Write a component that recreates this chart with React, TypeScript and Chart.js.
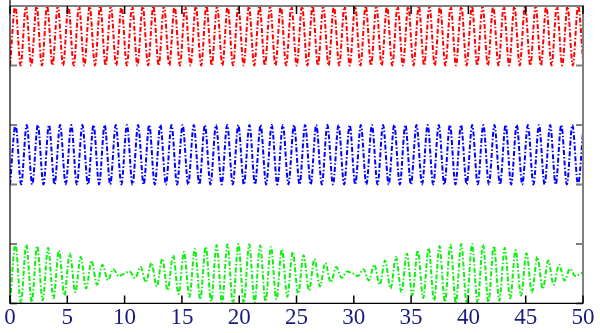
import React, { useEffect, useRef } from 'react';
import { Chart, registerables } from 'chart.js';

Chart.register(...registerables);

// Sample interval (time between successive extrema) of each trace
const RED_STEP = 0.4633;
const BLUE_STEP = 0.4859;
const GREEN_STEP = 0.4744;

const xTicks = [0, 5, 10, 15, 20, 25, 30, 35, 40, 45, 50];
const yTicks = [-1, 1, 3, 5, 7, 9];

// Red trace (offset 8): successive troughs/peaks
const redValues = [
  7, 9, 7, 9, 7, 9, 7, 9, 7, 9, 7, 9, 7, 9, 7, 9, 7, 9, 7, 9,
  7, 9, 7, 9, 7, 9, 7, 9, 7, 9, 7, 9, 7, 9, 7, 9, 7, 9, 7, 9,
  7, 9, 7, 9, 7, 9, 7, 9, 7, 9, 7, 9, 7, 9, 7, 9, 7, 9, 7, 9,
  7, 9, 7, 9, 7, 9, 7, 9, 7, 9, 7, 9, 7, 9, 7, 9, 7, 9, 7, 9,
  7, 9, 7, 9, 7, 9, 7, 9, 7, 9, 7, 9, 7, 9, 7, 9, 7, 9, 7, 9,
  7, 9, 7, 9, 7, 9, 7, 9, 7,
];

// Blue trace (offset 4): successive troughs/peaks
const blueValues = [
  3, 5, 3, 5, 3, 5, 3, 5, 3, 5, 3, 5, 3, 5, 3, 5, 3, 5, 3, 5,
  3, 5, 3, 5, 3, 5, 3, 5, 3, 5, 3, 5, 3, 5, 3, 5, 3, 5, 3, 5,
  3, 5, 3, 5, 3, 5, 3, 5, 3, 5, 3, 5, 3, 5, 3, 5, 3, 5, 3, 5,
  3, 5, 3, 5, 3, 5, 3, 5, 3, 5, 3, 5, 3, 5, 3, 5, 3, 5, 3, 5,
  3, 5, 3, 5, 3, 5, 3, 5, 3, 5, 3, 5, 3, 5, 3, 5, 3, 5, 3, 5,
  3, 5, 3, 5,
];

// Green trace (offset 0): beating signal, successive extrema
const greenValues = [
  -1.0, 1.0, -0.99, 0.98, -0.96, 0.93, -0.9, 0.87, -0.83, 0.78,
  -0.73, 0.68, -0.62, 0.56, -0.5, 0.43, -0.37, 0.3, -0.22, 0.15,
  -0.08, 0.0, 0.07, -0.15, 0.22, -0.29, 0.36, -0.43, 0.5, -0.56,
  0.62, -0.68, 0.73, -0.78, 0.83, -0.87, 0.9, -0.93, 0.96, -0.98,
  0.99, -1.0, 1.0, -1.0, 0.99, -0.97, 0.95, -0.93, 0.9, -0.86,
  0.82, -0.78, 0.73, -0.67, 0.62, -0.56, 0.49, -0.43, 0.36, -0.29,
  0.22, -0.14, 0.07, 0.01, -0.08, 0.15, -0.23, 0.3, -0.37, 0.44,
  -0.5, 0.56, -0.62, 0.68, -0.73, 0.78, -0.82, 0.86, -0.9, 0.93,
  -0.95, 0.97, -0.99, 1.0, -1.0, 1.0, -0.99, 0.98, -0.96, 0.93,
  -0.91, 0.87, -0.83, 0.79, -0.74, 0.69, -0.63, 0.57, -0.51, 0.44,
  -0.37, 0.3, -0.23, 0.16, -0.08, 0.01, 0.07,
];

const frameTicks = {
  id: 'frameTicks',
  afterDraw(chart: any) {
    const { ctx, chartArea } = chart;
    const { left, right, top, bottom } = chartArea;
    const xs = chart.scales.x;
    const ys = chart.scales.y;
    ctx.save();
    // y ticks (gray, inward)
    ctx.strokeStyle = '#808080';
    ctx.lineWidth = 2;
    yTicks.forEach((v) => {
      const py = ys.getPixelForValue(v);
      ctx.beginPath();
      ctx.moveTo(left, py);
      ctx.lineTo(left + 7, py);
      ctx.moveTo(right, py);
      ctx.lineTo(right - 7, py);
      ctx.stroke();
    });
    // top & right frame gray
    ctx.beginPath();
    ctx.moveTo(left, top);
    ctx.lineTo(right, top);
    ctx.lineTo(right, bottom);
    ctx.stroke();
    // x ticks (black, inward)
    ctx.strokeStyle = '#000000';
    ctx.lineWidth = 1.5;
    xTicks.forEach((v) => {
      const px = xs.getPixelForValue(v);
      ctx.beginPath();
      ctx.moveTo(px, bottom);
      ctx.lineTo(px, bottom - 8);
      ctx.moveTo(px, top);
      ctx.lineTo(px, top + 8);
      ctx.stroke();
    });
    // left & bottom frame black
    ctx.lineWidth = 1.2;
    ctx.beginPath();
    ctx.moveTo(left, top - 6);
    ctx.lineTo(left, bottom);
    ctx.lineTo(right, bottom);
    ctx.stroke();
    ctx.restore();
  },
};

export default function App() {
  const ref = useRef<HTMLCanvasElement>(null);
  useEffect(() => {
    document.body.style.margin = '0';
    const mk = (vals: number[], step: number) => vals.map((y, i) => ({ x: i * step, y }));
    const common = {
      pointRadius: 0,
      borderWidth: 2,
      borderDash: [5, 2, 1.5, 2],
      cubicInterpolationMode: 'monotone' as const,
      fill: false,
    };
    const chart = new Chart(ref.current!, {
      type: 'line',
      data: {
        datasets: [
          { ...common, label: 'red', data: mk(redValues, RED_STEP), borderColor: '#ff0000' },
          { ...common, label: 'blue', data: mk(blueValues, BLUE_STEP), borderColor: '#0000ff' },
          { ...common, label: 'green', data: mk(greenValues, GREEN_STEP), borderColor: '#11ee11' },
        ],
      },
      options: {
        animation: false,
        responsive: false,
        devicePixelRatio: 1,
        layout: { padding: { left: 10, right: 17, top: 6, bottom: 0 } },
        plugins: { legend: { display: false }, tooltip: { enabled: false } },
        scales: {
          x: {
            type: 'linear',
            min: 0,
            max: 50,
            afterBuildTicks: (s: any) => {
              s.ticks = xTicks.map((v) => ({ value: v }));
            },
            ticks: {
              color: '#1a1a80',
              font: { family: 'Liberation Serif', size: 23 },
              padding: 1,
              maxRotation: 0,
              autoSkip: false,
            },
            grid: { display: false, drawTicks: false },
            border: { display: false },
          },
          y: {
            type: 'linear',
            min: -1,
            max: 9,
            display: false,
          },
        },
      },
      plugins: [frameTicks],
    });
    return () => chart.destroy();
  }, []);
  return (
    <div style={{ width: 600, height: 333, position: 'relative' }}>
      <canvas ref={ref} width={600} height={333} style={{ display: 'block' }} />
    </div>
  );
}
